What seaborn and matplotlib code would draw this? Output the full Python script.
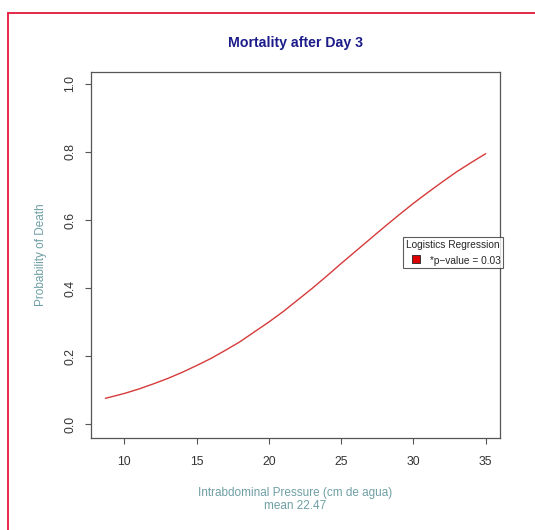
import matplotlib
matplotlib.use("Agg")
import matplotlib.pyplot as plt
import seaborn as sns
import pandas as pd
from matplotlib.lines import Line2D

# ---- data ----
pressure = [8.7, 9, 10, 11, 12, 13, 14, 15, 16, 17, 18, 19, 20, 21, 22, 23,
            24, 25, 26, 27, 28, 29, 30, 31, 32, 33, 34, 35]
prob_death = [0.076, 0.079, 0.090, 0.103, 0.118, 0.134, 0.152, 0.172, 0.193,
              0.217, 0.242, 0.271, 0.300, 0.331, 0.365, 0.399, 0.435, 0.472,
              0.508, 0.544, 0.580, 0.615, 0.649, 0.681, 0.712, 0.742, 0.769,
              0.795]
x_ticks = [10, 15, 20, 25, 30, 35]
y_ticks = [0.0, 0.2, 0.4, 0.6, 0.8, 1.0]
y_tick_labels = ["0.0", "0.2", "0.4", "0.6", "0.8", "1.0"]
title = "Mortality after Day 3"
x_label = "Intrabdominal Pressure (cm de agua)\nmean 22.47"
y_label = "Probability of Death"
legend_title = "Logistics Regression"
legend_entry = "*p\u2212value = 0.03"

df = pd.DataFrame({"pressure": pressure, "prob": prob_death})

sns.set_theme(style="white")
plt.rcParams["font.family"] = ["Liberation Sans", "DejaVu Sans"]

W, H = 535, 530
fig = plt.figure(figsize=(W / 100, H / 100), dpi=100)
fig.patch.set_facecolor("white")

ax_l, ax_r, ax_t, ax_b = 90.7, 500.0, 71.7, 437.7
ax = fig.add_axes([ax_l / W, 1 - ax_b / H, (ax_r - ax_l) / W, (ax_b - ax_t) / H])
ax.set_facecolor("white")

sns.lineplot(data=df, x="pressure", y="prob", color="#d63a3a", linewidth=1.0,
             ax=ax, legend=False)

ax.set_xlim(7.68, 35.99)
ax.set_ylim(-0.04, 1.036)
ax.set_xticks(x_ticks)
ax.set_yticks(y_ticks)
ax.set_yticklabels(y_tick_labels, rotation=90, va="center")

for s in ax.spines.values():
    s.set_visible(True)
    s.set_color("#555555")
    s.set_linewidth(0.9)

ax.tick_params(axis="both", direction="out", length=4.5, width=0.8,
               color="#555555", labelcolor="#333333", labelsize=8.8,
               bottom=True, left=True)
ax.tick_params(axis="x", pad=8.5)
ax.tick_params(axis="y", pad=6)

label_color = "#6e9fa4"
ax.set_xlabel(x_label, color=label_color, fontsize=8.5, linespacing=1.2)
ax.xaxis.set_label_coords(0.5, -(499.5 - ax_b) / (ax_b - ax_t))
ax.xaxis.label.set_va("center")
ax.set_ylabel(y_label, color=label_color, fontsize=8.5)
ax.yaxis.set_label_coords(-(ax_l - 41) / (ax_r - ax_l), 0.5)
ax.yaxis.label.set_va("center")

ax.set_title(title, fontsize=10.2, fontweight="bold", color="#1c1c8a",
             y=1 + (ax_t - 43.3) / (ax_b - ax_t), va="center", pad=0)

handle = Line2D([], [], linestyle="none", marker="s", markersize=5.5,
                markerfacecolor="#dd0000", markeredgecolor="#222222",
                markeredgewidth=0.6)
leg = ax.legend([handle], [legend_entry], title=legend_title,
                loc="upper left",
                bbox_to_anchor=((403.3 - ax_l) / (ax_r - ax_l),
                                (ax_b - 237.3) / (ax_b - ax_t)),
                fontsize=7.3, title_fontsize=7.3, frameon=True,
                fancybox=False, borderpad=0.25, handlelength=2.0,
                handleheight=1.3, handletextpad=0.35, borderaxespad=0,
                alignment="left")
leg.get_frame().set_edgecolor("#333333")
leg.get_frame().set_linewidth(0.8)

# red outer frame (left and top edges)
red = "#e3173e"
fig.add_artist(Line2D([8 / W, 8 / W], [0, 1 - 13 / H], color=red,
                      linewidth=1.3, transform=fig.transFigure))
fig.add_artist(Line2D([8 / W, 1], [1 - 13 / H, 1 - 13 / H], color=red,
                      linewidth=1.3, transform=fig.transFigure))

fig.savefig("out.png", dpi=100, facecolor="white")
